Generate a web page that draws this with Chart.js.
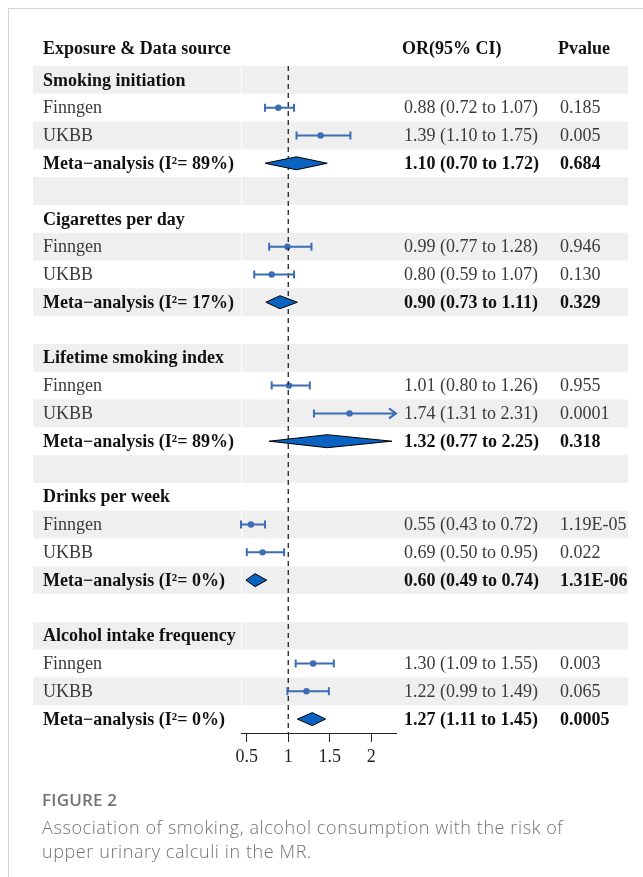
<!DOCTYPE html>
<html>
<head>
<meta charset="utf-8">
<script src="https://cdn.jsdelivr.net/npm/chart.js@4.4.1/dist/chart.umd.min.js"></script>
<style>
  html, body { margin: 0; padding: 0; background: #fff; }
  #wrap { position: relative; width: 643px; height: 877px; overflow: hidden; }
  #card { position: absolute; left: 8px; top: 8px; width: 700px; height: 900px; border: 1px solid #d4d4d4; box-sizing: border-box; }
  #forest { position: absolute; left: 0; top: 0; }
  .cap { position: absolute; left: 42px; font-family: "Open Sans", sans-serif; color: #737373; }
  #capTitle { top: 788px; font-size: 17px; font-weight: 600; line-height: 24px; letter-spacing: 0.2px; }
  #capText { top: 815px; font-size: 18px; line-height: 24px; letter-spacing: 0.6px; width: 610px; font-weight: 300; }
</style>
</head>
<body>
<div id="wrap">
  <div id="card"></div>
  <canvas id="forest" width="643" height="877"></canvas>
  <div class="cap" id="capTitle">FIGURE 2</div>
  <div class="cap" id="capText">Association of smoking, alcohol consumption with the risk of<br>upper urinary calculi in the MR.</div>
</div>
<script>
// ===== Table rows (top to bottom)
const rowLabels = [
  'Smoking initiation', 'Finngen', 'UKBB', 'Meta\u2212analysis (I\u00b2= 89%)', '',
  'Cigarettes per day', 'Finngen', 'UKBB', 'Meta\u2212analysis (I\u00b2= 17%)', '',
  'Lifetime smoking index', 'Finngen', 'UKBB', 'Meta\u2212analysis (I\u00b2= 89%)', '',
  'Drinks per week', 'Finngen', 'UKBB', 'Meta\u2212analysis (I\u00b2= 0%)', '',
  'Alcohol intake frequency', 'Finngen', 'UKBB', 'Meta\u2212analysis (I\u00b2= 0%)'
];
const rowKinds = [
  'group', 'study', 'study', 'meta', 'blank',
  'group', 'study', 'study', 'meta', 'blank',
  'group', 'study', 'study', 'meta', 'blank',
  'group', 'study', 'study', 'meta', 'blank',
  'group', 'study', 'study', 'meta'
];
const orText = [
  '', '0.88 (0.72 to 1.07)', '1.39 (1.10 to 1.75)', '1.10 (0.70 to 1.72)', '',
  '', '0.99 (0.77 to 1.28)', '0.80 (0.59 to 1.07)', '0.90 (0.73 to 1.11)', '',
  '', '1.01 (0.80 to 1.26)', '1.74 (1.31 to 2.31)', '1.32 (0.77 to 2.25)', '',
  '', '0.55 (0.43 to 0.72)', '0.69 (0.50 to 0.95)', '0.60 (0.49 to 0.74)', '',
  '', '1.30 (1.09 to 1.55)', '1.22 (0.99 to 1.49)', '1.27 (1.11 to 1.45)'
];
const pText = [
  '', '0.185', '0.005', '0.684', '',
  '', '0.946', '0.130', '0.329', '',
  '', '0.955', '0.0001', '0.318', '',
  '', '1.19E-05', '0.022', '1.31E-06', '',
  '', '0.003', '0.065', '0.0005'
];
const headers = ['Exposure & Data source', 'OR(95% CI)', 'Pvalue'];

// ===== Study estimates (rows with whiskers)
const studyRows = [1, 2, 6, 7, 11, 12, 16, 17, 21, 22];
const studyEst  = [0.88, 1.39, 0.99, 0.80, 1.01, 1.74, 0.55, 0.69, 1.30, 1.22];
const studyLo   = [0.72, 1.10, 0.77, 0.59, 0.80, 1.31, 0.43, 0.50, 1.09, 0.99];
const studyHi   = [1.07, 1.75, 1.28, 1.07, 1.26, 2.31, 0.72, 0.95, 1.55, 1.49];

// ===== Meta-analysis diamonds (as drawn)
const metaRows = [3, 8, 13, 18, 23];
const metaEst  = [1.10, 0.90, 1.47, 0.60, 1.29];
const metaLo   = [0.72, 0.73, 0.77, 0.49, 1.11];
const metaHi   = [1.47, 1.11, 2.25, 0.74, 1.45];

// ===== Axis
const xTicks = [0.5, 1, 1.5, 2];
const xMin = 0.43, xMax = 2.30;
const refValue = 1;

const SERIF = '"Liberation Serif", "Times New Roman", serif';
const BLUE = '#3d6db4';
const DIAMOND = '#0b63c1';

// ===== Plugin: bandas, texto, whiskers e diamantes
const forestPlugin = {
  id: 'forestTable',
  beforeDraw(chart) {
    const { ctx, scales: { y } } = chart;
    const h = Math.abs(y.getPixelForValue(1) - y.getPixelForValue(0));
    ctx.save();
    rowLabels.forEach((_, i) => {
      if (i % 2 !== 0) return;
      const yc = y.getPixelForValue(i);
      ctx.fillStyle = '#efefef';
      ctx.fillRect(33, yc - h / 2, 595, h);
      ctx.fillStyle = '#fff';
      ctx.fillRect(241, yc - h / 2, 1, h);
    });
    ctx.restore();
  },
  afterDatasetsDraw(chart) {
    const { ctx, scales: { x, y } } = chart;
    ctx.save();
    // whiskers
    ctx.strokeStyle = BLUE;
    ctx.lineWidth = 2;
    studyRows.forEach((r, k) => {
      const yc = y.getPixelForValue(r);
      const x0 = x.getPixelForValue(studyLo[k]);
      const arrow = studyHi[k] > xMax;
      const x1 = x.getPixelForValue(Math.min(studyHi[k], xMax));
      ctx.beginPath();
      ctx.moveTo(x0, yc); ctx.lineTo(x1, yc);
      ctx.moveTo(x0, yc - 4); ctx.lineTo(x0, yc + 4);
      if (arrow) {
        ctx.moveTo(x1 - 7, yc - 5); ctx.lineTo(x1, yc); ctx.lineTo(x1 - 7, yc + 5);
      } else {
        ctx.moveTo(x1, yc - 4); ctx.lineTo(x1, yc + 4);
      }
      ctx.stroke();
    });
    // diamonds
    metaRows.forEach((r, k) => {
      const yc = y.getPixelForValue(r);
      const xl = x.getPixelForValue(metaLo[k]);
      const xm = x.getPixelForValue(metaEst[k]);
      const xr = x.getPixelForValue(metaHi[k]);
      ctx.beginPath();
      ctx.moveTo(xl, yc); ctx.lineTo(xm, yc - 6.5); ctx.lineTo(xr, yc); ctx.lineTo(xm, yc + 6.5);
      ctx.closePath();
      ctx.fillStyle = DIAMOND;
      ctx.fill();
      ctx.strokeStyle = '#000';
      ctx.lineWidth = 1;
      ctx.stroke();
    });
    // textos
    ctx.textBaseline = 'middle';
    ctx.textAlign = 'left';
    const yh = y.getPixelForValue(-1.1);
    ctx.fillStyle = '#111';
    ctx.font = `bold 18px ${SERIF}`;
    ctx.fillText(headers[0], 43, yh);
    ctx.fillText(headers[1], 402, yh);
    ctx.fillText(headers[2], 558, yh);
    rowLabels.forEach((lab, i) => {
      const yc = y.getPixelForValue(i) + 1;
      const kind = rowKinds[i];
      const bold = kind !== 'study';
      ctx.font = `${bold ? 'bold ' : ''}18px ${SERIF}`;
      ctx.fillStyle = bold ? '#111' : '#3a3a3a';
      if (lab) ctx.fillText(lab, 43, yc);
      if (orText[i]) ctx.fillText(orText[i], 404, yc);
      if (pText[i]) ctx.fillText(pText[i], 560, yc);
    });
    ctx.restore();
  }
};

const points = studyRows.map((r, k) => ({ x: studyEst[k], y: r }));

new Chart(document.getElementById('forest'), {
  type: 'scatter',
  data: {
    datasets: [
      {
        type: 'line',
        data: [{ x: refValue, y: -0.5 }, { x: refValue, y: rowLabels.length - 0.5 }],
        borderColor: '#111',
        borderWidth: 1.2,
        borderDash: [5, 4],
        pointRadius: 0
      },
      {
        data: points,
        pointRadius: 3.2,
        pointBackgroundColor: BLUE,
        pointBorderColor: BLUE,
        pointBorderWidth: 0
      }
    ]
  },
  options: {
    responsive: false,
    animation: false,
    events: [],
    layout: { padding: { left: 241, right: 247, top: 66, bottom: 104 } },
    plugins: { legend: { display: false }, tooltip: { enabled: false } },
    scales: {
      x: {
        type: 'linear',
        min: xMin,
        max: xMax,
        afterBuildTicks: (s) => { s.ticks = xTicks.map(v => ({ value: v })); },
        afterFit: (s) => { s.height = 40; },
        grid: { display: true, drawOnChartArea: false, drawTicks: true, tickLength: 9, color: '#222' },
        border: { display: true, color: '#222', width: 1 },
        ticks: { color: '#222', padding: 4, font: { family: SERIF, size: 18 }, maxRotation: 0, callback: (v) => String(v) }
      },
      y: {
        type: 'linear',
        display: false,
        reverse: true,
        min: -0.5,
        max: rowLabels.length - 0.5
      }
    }
  },
  plugins: [forestPlugin]
});
</script>
</body>
</html>
